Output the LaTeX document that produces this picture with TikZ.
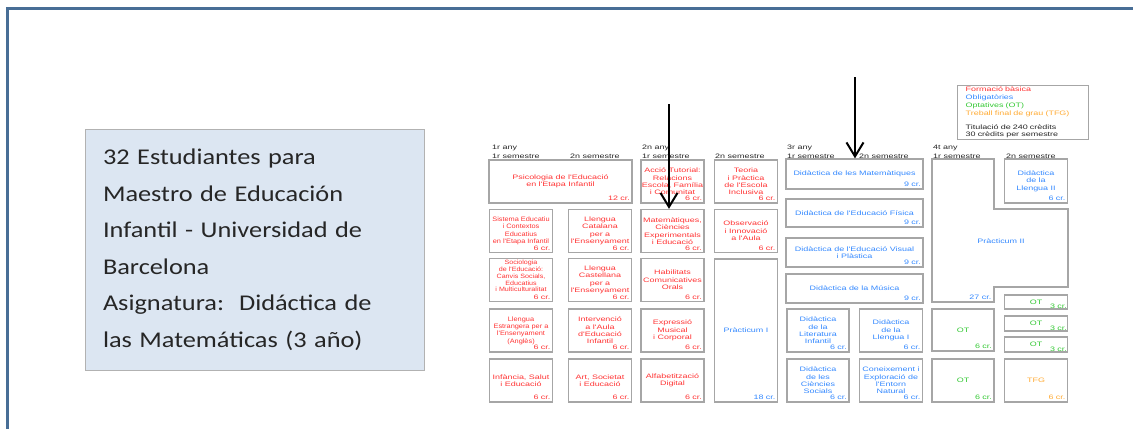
\documentclass[tikz,border=0pt]{standalone}
\usepackage{fontspec}
\setmainfont{Liberation Sans}
\newfontfamily\infofont[FakeStretch=1.17]{Carlito}
\newfontfamily\gridfont[FakeStretch=1.4]{Liberation Sans}
\newfontfamily\tightfont[FakeStretch=1.15]{Liberation Sans}
\usetikzlibrary{arrows.meta}
\definecolor{framecol}{RGB}{72,110,150}
\definecolor{infofill}{RGB}{220,230,242}
\definecolor{fbred}{RGB}{255,51,51}
\definecolor{obblue}{RGB}{51,136,255}
\definecolor{opgreen}{RGB}{51,200,51}
\definecolor{tgorange}{RGB}{255,170,51}
\tikzset{
  cell/.style={draw=gray!70,line width=1.3pt,minimum width=63pt,minimum height=43pt,
    inner sep=1pt,align=center,font=\gridfont\fontsize{6.4}{7.4}\selectfont},
  tight/.style={font=\tightfont\fontsize{6.4}{7.4}\selectfont},
  credit/.style={anchor=south east,inner sep=2.5pt,font=\gridfont\fontsize{6.4}{7.4}\selectfont},
  head/.style={anchor=west,inner sep=0pt,text=black!85,font=\gridfont\fontsize{6.4}{7.4}\selectfont},
  fb/.style={text=fbred},
  ob/.style={text=obblue},
  op/.style={text=opgreen},
  tg/.style={text=tgorange},
  pointer/.style={-{Straight Barb[length=14pt,width=17pt]},line width=2pt}
}
\begin{document}
\begin{tikzpicture}[x=1pt,y=-1pt]
      \useasboundingbox (0,0) rectangle (1133,429);
      \draw[framecol,line width=3pt] (1133,8) -- (7,8) -- (7,429);
      \node[draw=gray!60,line width=1pt,fill=infofill,minimum width=339pt,minimum height=241pt,
        text width=303pt,inner xsep=18pt,inner ysep=0pt,align=left,text=black!85,
        font=\infofont\fontsize{22.5}{36.5}\selectfont] (info) at (254.5,249.5)
        {32 Estudiantes para\\Maestro de Educación\\Infantil - Universidad de\\Barcelona\\
         Asignatura:\ \ Didáctica de\\las Matemáticas (3 año)};
      \draw
        (492,148) node[head] (y1){1r any}
        (492,156.5) node[head] (s11){1r semestre}
        (570,156.5) node[head] (s12){2n semestre}
        (642,148) node[head] (y2){2n any}
        (642,156.5) node[head] (s21){1r semestre}
        (715,156.5) node[head] (s22){2n semestre}
        (787,148) node[head] (y3){3r any}
        (787,156.5) node[head] (s31){1r semestre}
        (859,156.5) node[head] (s32){2n semestre}
        (933,148) node[head] (y4){4t any}
        (933,156.5) node[head] (s41){1r semestre}
        (1006,156.5) node[head] (s42){2n semestre};
      \draw
        (560.5,181.5) node[cell,fb,minimum width=143pt] (pe){Psicologia de l'Educació\\en l'Etapa Infantil}
        (521,231) node[cell,fb,tight] (se){Sistema Educatiu\\i Contextos\\Educatius\\en l'Etapa Infantil}
        (521,280) node[cell,fb,tight,font=\tightfont\fontsize{6.2}{6.8}\selectfont,text depth=8pt] (so){Sociologia\\de l'Educació:\\Canvis Socials,\\Educatius\\i Multiculturalitat}
        (521,330.5) node[cell,fb,tight] (le){Llengua\\Estrangera per a\\l'Ensenyament\\(Anglès)}
        (521,380.5) node[cell,fb] (is){Infància, Salut\\i Educació}
        (600,231) node[cell,fb] (lc){Llengua\\Catalana\\per a\\l'Ensenyament}
        (600,280) node[cell,fb] (lk){Llengua\\Castellana\\per a\\l'Ensenyament}
        (600,330.5) node[cell,fb] (ia){Intervenció\\a l'Aula\\d'Educació\\Infantil}
        (600,380.5) node[cell,fb] (ar){Art, Societat\\i Educació}
        (672.5,181.5) node[cell,fb] (at){Acció Tutorial:\\Relacions\\Escola, Família\\i Comunitat}
        (672.5,231) node[cell,fb] (mc){Matemàtiques,\\Ciències\\Experimentals\\i Educació}
        (672.5,280) node[cell,fb] (hc){Habilitats\\Comunicatives\\Orals}
        (672.5,330.5) node[cell,fb] (em){Expressió\\Musical\\i Corporal}
        (672.5,380.5) node[cell,fb] (ad){Alfabetització\\Digital}
        (746,181.5) node[cell,fb] (te){Teoria\\i Pràctica\\de l'Escola\\Inclusiva}
        (746,231) node[cell,fb] (oi){Observació\\i Innovació\\a l'Aula}
        (746,330.5) node[cell,ob,minimum height=143pt] (p1){Pràcticum I}
        (854.5,174) node[cell,ob,minimum width=137pt,minimum height=30pt] (dm){Didàctica de les Matemàtiques}
        (854.5,213) node[cell,ob,minimum width=137pt,minimum height=28pt] (df){Didàctica de l'Educació Física}
        (854.5,252.5) node[cell,ob,minimum width=137pt,minimum height=29pt] (dv){Didàctica de l'Educació Visual\\i Plàstica}
        (854.5,288.5) node[cell,ob,minimum width=137pt,minimum height=29pt] (du){Didàctica de la Música}
        (818,330.5) node[cell,ob,minimum width=62pt] (dl){Didàctica\\de la\\Literatura\\Infantil}
        (891,330.5) node[cell,ob] (dg){Didàctica\\de la\\Llengua I}
        (818,380.5) node[cell,ob,minimum width=62pt] (ds){Didàctica\\de les\\Ciències\\Socials}
        (891,380.5) node[cell,ob] (ce){Coneixement i\\Exploració de\\l'Entorn\\Natural}
        (1036,181) node[cell,ob,minimum height=44pt] (d2){Didàctica\\de la\\Llengua II}
        (1036,302) node[cell,op,minimum height=14pt] (o1){OT}
        (1036,323.5) node[cell,op,minimum height=15pt] (o2){OT}
        (1036,344.5) node[cell,op,minimum height=15pt] (o3){OT}
        (963,330) node[cell,op,minimum width=62pt,minimum height=42pt] (o4){OT}
        (963,380.5) node[cell,op,minimum width=62pt] (o5){OT}
        (1036,380.5) node[cell,tg] (tf){TFG};
      \draw[draw=gray!70,line width=1.3pt]
        (932,159) -| (994,209) -| (1068,287) -| (994,302) -| (932,159) -- cycle;
      \node[ob,inner sep=0pt,font=\gridfont\fontsize{6.4}{7.4}\selectfont] (p2) at (1001,241) {Pràcticum II};
      \begin{scope}[every node/.style={credit}]
        \node[fb] at (pe.south east) {12 cr.};
        \node[fb] at (se.south east) {6 cr.};
        \node[fb] at (so.south east) {6 cr.};
        \node[fb] at (le.south east) {6 cr.};
        \node[fb] at (is.south east) {6 cr.};
        \node[fb] at (lc.south east) {6 cr.};
        \node[fb] at (lk.south east) {6 cr.};
        \node[fb] at (ia.south east) {6 cr.};
        \node[fb] at (ar.south east) {6 cr.};
        \node[fb] at (at.south east) {6 cr.};
        \node[fb] at (mc.south east) {6 cr.};
        \node[fb] at (hc.south east) {6 cr.};
        \node[fb] at (em.south east) {6 cr.};
        \node[fb] at (ad.south east) {6 cr.};
        \node[fb] at (te.south east) {6 cr.};
        \node[fb] at (oi.south east) {6 cr.};
        \node[ob] at (p1.south east) {18 cr.};
        \node[ob] at (dm.south east) {9 cr.};
        \node[ob] at (df.south east) {9 cr.};
        \node[ob] at (dv.south east) {9 cr.};
        \node[ob] at (du.south east) {9 cr.};
        \node[ob] at (dl.south east) {6 cr.};
        \node[ob] at (dg.south east) {6 cr.};
        \node[ob] at (ds.south east) {6 cr.};
        \node[ob] at (ce.south east) {6 cr.};
        \node[ob] at (d2.south east) {6 cr.};
        \node[ob] at (994,302) {27 cr.};
        \node[op,inner sep=1pt] at (o1.south east) {3 cr.};
        \node[op,inner sep=1pt] at (o2.south east) {3 cr.};
        \node[op,inner sep=1pt] at (o3.south east) {3 cr.};
        \node[op] at (o4.south east) {6 cr.};
        \node[op] at (o5.south east) {6 cr.};
        \node[tg] at (tf.south east) {6 cr.};
      \end{scope}
      \node[draw=gray!70,line width=1.3pt,anchor=north west,text width=115pt,inner xsep=8pt,
        inner ysep=1pt,minimum height=54pt,align=left,text=black!85,
        font=\gridfont\fontsize{6.4}{7.8}\selectfont] (key) at (957,85)
        {{\color{fbred}Formació bàsica}\\{\color{obblue}Obligatòries}\\{\color{opgreen}Optatives (OT)}\\
         {\color{tgorange}Treball final de grau (TFG)}\\[6pt]Titulació de 240 crèdits\\30 crèdits per semestre};
      \coordinate (a1) at (669,104);
      \coordinate (a2) at (855,77);
      \begin{scope}[pointer]
        \draw (a1) to (a1 |- mc.north);
        \draw (a2) to (a2 |- dm.north);
      \end{scope}
    \end{tikzpicture}
\end{document}
